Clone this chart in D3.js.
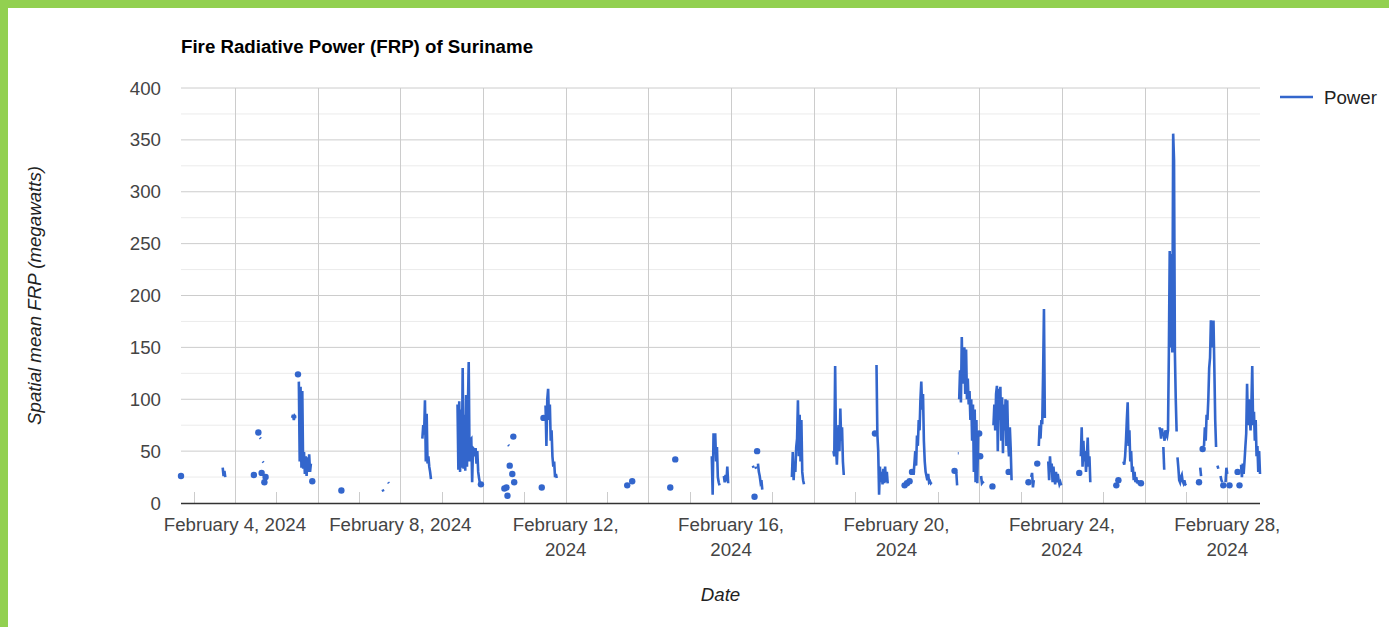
<!DOCTYPE html>
<html>
<head>
<meta charset="utf-8">
<script src="https://cdn.jsdelivr.net/npm/d3@7"></script>
<style>
  body { margin: 0; background: #fff; }
  svg { display: block; font-family: Arial, "Liberation Sans", sans-serif; }
</style>
</head>
<body>
<svg id="chart" width="1389" height="627"></svg>
<script>
// readings are every half hour inside a run; runs are separated by gaps (no fire detected)
const STEP_H = 0.5;
// start of each run, hours after 2024-02-02 00:00
const segStart = [
  16.7, 40.9, 59.0, 61.6, 62.5, 63.5, 64.1, 65.1, 65.8, 81.2,
  84.6, 85.1, 92.9, 109.8, 133.7, 136.9, 156.8, 177.2, 190.8, 204.4,
  205.6, 206.2, 206.6, 207.5, 209.0, 209.6, 210.1, 226.1, 227.1, 228.3,
  275.7, 278.6, 300.7, 303.6, 324.8, 331.8, 348.6, 349.6, 350.1, 351.1,
  351.6, 371.3, 395.4, 419.5, 420.4, 436.7, 438.1, 439.6, 441.0, 441.9,
  465.7, 466.7, 467.6, 468.4, 480.0, 480.6, 481.1, 487.7, 488.3, 497.1,
  508.6, 510.2, 513.7, 514.6, 520.1, 538.1, 539.0, 559.6, 560.8, 563.7,
  573.9, 584.6, 586.9, 595.1, 607.6, 608.3, 609.7, 610.5, 618.3, 620.1,
  621.7, 623.0, 625.3, 630.0, 631.1, 632.0
];
// FRP values (MW) of each run
const segValues = [
  [26], [34, 26, 31, 25], [27], [68], [63, 62], [29], [40, 39], [20], [25],
  [82, 85, 80, 84, 83, 83],
  [124],
  [117, 40, 112, 34, 108, 33, 49, 28, 45, 26, 44, 30, 47, 30, 38],
  [21], [12], [13, 11], [20, 19],
  [62, 75, 66, 99, 40, 86, 38, 45, 35, 30, 23],
  [95, 32, 98, 30, 90, 34, 130, 33, 85, 31, 104, 35, 90, 136, 40, 61, 62, 20, 53, 52, 45, 53, 38, 50, 30, 24, 19],
  [18], [14], [15], [7], [56, 55], [36], [28], [64], [20], [15], [82],
  [94, 55, 100, 110, 80, 95, 60, 70, 45, 35, 40, 25, 28, 24],
  [17], [21], [15], [42],
  [45, 8, 66, 66, 66, 40, 54, 25, 20, 17],
  [26, 20, 27, 21, 35, 19],
  [36, 34], [6], [35, 33], [50],
  [38, 30, 26, 20, 22, 13],
  [25, 49, 22, 40, 30, 54, 62, 99, 45, 85, 40, 80, 30, 22, 18],
  [50, 45, 132, 55, 37, 60, 75, 50, 91, 60, 73, 40, 27],
  [67],
  [133, 66, 50, 8, 35, 20, 30, 18, 33, 19, 35, 20, 30, 19],
  [17], [19], [21], [30],
  [27, 38, 50, 36, 65, 55, 80, 70, 100, 117, 90, 105, 60, 40, 30, 26, 22, 28, 20, 21, 19, 20],
  [31], [30, 17], [48, 48],
  [100, 128, 97, 160, 115, 128, 150, 105, 148, 100, 120, 95, 108, 80, 100, 60, 95, 30, 90, 20, 80, 19, 65],
  [67], [45], [26, 19, 20, 19], [16],
  [75, 95, 70, 105, 113, 50, 110, 80, 112, 60, 102, 48, 95, 70, 100, 55, 99, 60, 45, 73, 52, 22],
  [30], [20], [25, 29, 15, 22], [38],
  [55, 75, 62, 80, 76, 125, 187, 82],
  [40, 22, 45, 30, 38, 20, 35, 25, 18, 30, 20, 28, 22, 18, 20, 17],
  [29],
  [45, 73, 35, 60, 40, 50, 30, 45, 63, 35, 45, 20],
  [17], [22],
  [40, 37, 45, 60, 80, 97, 55, 70, 40, 50, 30, 35, 22, 30, 20, 25, 19, 22, 18],
  [19],
  [73, 70, 62, 72, 65, 68, 60, 70, 66, 64, 70, 145, 243, 150, 240, 145, 356, 330, 144, 100, 69],
  [54, 32],
  [44, 34, 22, 20, 25, 27, 21, 19, 22, 18, 17],
  [20], [34, 26], [52],
  [55, 73, 60, 85, 80, 100, 130, 140, 176, 150, 170, 176, 130, 80, 54],
  [36, 33], [26, 22, 20], [17], [20, 34, 28], [17], [30], [17],
  [37, 25, 38, 28, 40, 54, 67, 115, 75, 100, 85, 70, 95, 132, 75, 88, 60, 80, 45, 55, 30, 50, 28]
];
const yTicks = [0, 50, 100, 150, 200, 250, 300, 350, 400];
const yMinorTicks = [25, 75, 125, 175, 225, 275, 325, 375];
const xTickDates = ["2024-02-04", "2024-02-08", "2024-02-12", "2024-02-16", "2024-02-20", "2024-02-24", "2024-02-28"];
const xTickLabels = [
  ["February 4, 2024"], ["February 8, 2024"], ["February 12,", "2024"], ["February 16,", "2024"],
  ["February 20,", "2024"], ["February 24,", "2024"], ["February 28,", "2024"]
];

const origin = new Date(2024, 1, 2);
const toDate = (h) => new Date(origin.getTime() + h * 3600e3);
const parseDay = d3.timeParse("%Y-%m-%d");

const runs = segStart.map((s, i) =>
  segValues[i].map((v, j) => ({ t: toDate(s + j * STEP_H), v: v }))
);
const allPts = runs.flat();

const margin = { top: 88, right: 129, bottom: 124, left: 181 };
const width = 1389, height = 627;

const x = d3.scaleTime()
  .domain(d3.extent(allPts, (d) => d.t))
  .range([margin.left, width - margin.right]);
const y = d3.scaleLinear()
  .domain([0, 400])
  .range([height - margin.bottom, margin.top]);

const svg = d3.select("#chart");

// green frame on the left and top
svg.append("rect").attr("x", 0).attr("y", 0).attr("width", width).attr("height", 8).attr("fill", "#92d050");
svg.append("rect").attr("x", 0).attr("y", 0).attr("width", 8).attr("height", height).attr("fill", "#92d050");

// title
svg.append("text")
  .attr("x", margin.left).attr("y", 53)
  .style("font-size", "18.7px").style("font-weight", "bold").style("fill", "#000")
  .text("Fire Radiative Power (FRP) of Suriname");

const grid = svg.append("g");

// minor horizontal gridlines
grid.selectAll(".ymin").data(yMinorTicks).enter().append("line")
  .attr("x1", x.range()[0]).attr("x2", x.range()[1])
  .attr("y1", (d) => y(d)).attr("y2", (d) => y(d))
  .attr("stroke", "#ebebeb").attr("stroke-width", 1);

// daily tick marks along the bottom
const days = d3.timeDay.range(d3.timeDay.ceil(x.domain()[0]), x.domain()[1]);
grid.selectAll(".dtick").data(days).enter().append("line")
  .attr("x1", (d) => Math.round(x(d)) + 0.5).attr("x2", (d) => Math.round(x(d)) + 0.5)
  .attr("y1", y(0) - 11).attr("y2", y(0))
  .attr("stroke", "#cccccc").attr("stroke-width", 1);

// major horizontal gridlines
grid.selectAll(".ymaj").data(yTicks.filter((d) => d > 0)).enter().append("line")
  .attr("x1", x.range()[0]).attr("x2", x.range()[1])
  .attr("y1", (d) => y(d)).attr("y2", (d) => y(d))
  .attr("stroke", "#cccccc").attr("stroke-width", 1);

// vertical gridlines every second day
const gridDays = days.filter((d) => d.getDate() % 2 === 0);
grid.selectAll(".xmaj").data(gridDays).enter().append("line")
  .attr("x1", (d) => Math.round(x(d)) + 0.5).attr("x2", (d) => Math.round(x(d)) + 0.5)
  .attr("y1", y(400)).attr("y2", y(0))
  .attr("stroke", "#cccccc").attr("stroke-width", 1);

// y labels
svg.append("g").selectAll("text").data(yTicks).enter().append("text")
  .attr("x", 161).attr("y", (d) => y(d) + 6.5)
  .attr("text-anchor", "end")
  .style("font-size", "18.7px").style("fill", "#444")
  .text((d) => d);

// x labels
const xl = svg.append("g").selectAll("text").data(xTickDates).enter().append("text")
  .attr("text-anchor", "middle")
  .style("font-size", "18.7px").style("fill", "#444");
xl.each(function (d, i) {
  const t = d3.select(this);
  xTickLabels[i].forEach((line, k) => {
    t.append("tspan").attr("x", x(parseDay(d))).attr("y", 530.5 + k * 25).text(line);
  });
});

// axis titles
svg.append("text")
  .attr("x", (x.range()[0] + x.range()[1]) / 2).attr("y", 600.5)
  .attr("text-anchor", "middle")
  .style("font-size", "18.7px").style("font-style", "italic").style("fill", "#222")
  .text("Date");
svg.append("text")
  .attr("transform", `translate(41, ${(y(0) + y(400)) / 2}) rotate(-90)`)
  .attr("text-anchor", "middle")
  .style("font-size", "18.7px").style("font-style", "italic").style("fill", "#222")
  .text("Spatial mean FRP (megawatts)");

// series
const line = d3.line().x((d) => x(d.t)).y((d) => y(d.v));
const plot = svg.append("g");
plot.selectAll("path").data(runs.filter((r) => r.length > 1)).enter().append("path")
  .attr("d", line)
  .attr("fill", "none").attr("stroke", "#3366cc").attr("stroke-width", 2.6);
plot.selectAll("circle").data(runs.filter((r) => r.length === 1)).enter().append("circle")
  .attr("cx", (r) => x(r[0].t)).attr("cy", (r) => y(r[0].v)).attr("r", 3.2)
  .attr("fill", "#3366cc");

// baseline
svg.append("line")
  .attr("x1", x.range()[0]).attr("x2", x.range()[1])
  .attr("y1", y(0) + 0.5).attr("y2", y(0) + 0.5)
  .attr("stroke", "#333").attr("stroke-width", 1.3);

// legend
svg.append("line")
  .attr("x1", 1280).attr("x2", 1313).attr("y1", 97).attr("y2", 97)
  .attr("stroke", "#3366cc").attr("stroke-width", 2.6);
svg.append("text")
  .attr("x", 1324).attr("y", 103.5)
  .style("font-size", "18.7px").style("fill", "#222")
  .text("Power");
</script>
</body>
</html>
